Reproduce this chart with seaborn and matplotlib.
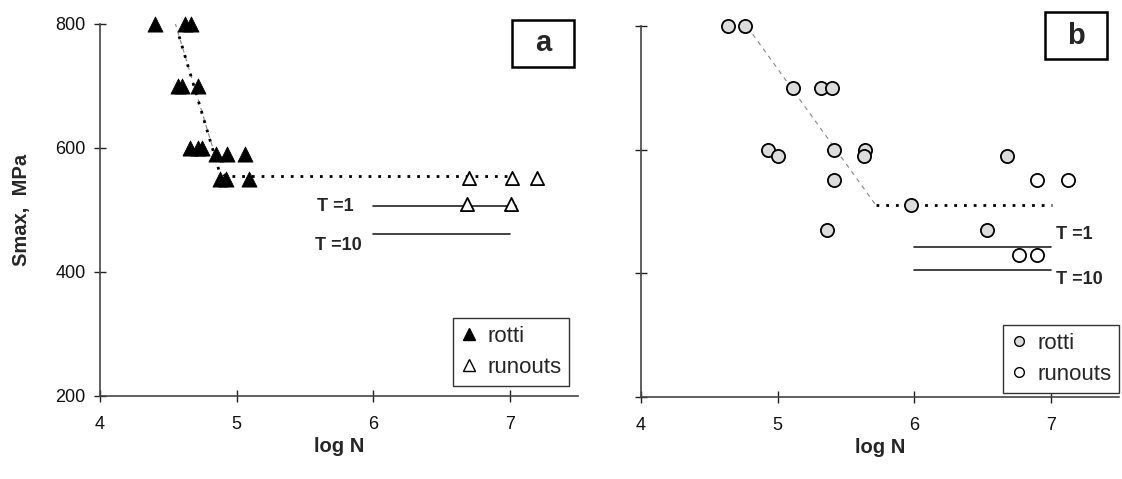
import matplotlib
matplotlib.use("Agg")
import matplotlib.pyplot as plt
from matplotlib.lines import Line2D
from matplotlib.patches import Rectangle
import seaborn as sns
import pandas as pd

sns.set_style("ticks")
plt.rcParams['font.family'] = ['Liberation Sans', 'DejaVu Sans']

# ---------------- data ----------------
# panel a
a_rotti_x = [4.40, 4.62, 4.67, 4.57, 4.60, 4.72, 4.66, 4.72, 4.75, 4.85, 4.93, 5.06, 4.88, 4.92, 5.09]
a_rotti_y = [800, 800, 800, 700, 700, 700, 600, 600, 600, 590, 590, 590, 550, 550, 550]
a_run_x = [6.70, 7.02, 7.20, 6.69, 7.01]
a_run_y = [552, 552, 552, 510, 510]
a_dot_x = [4.58, 4.87, 4.92, 7.00]
a_dot_y = [780, 565, 554, 554]
a_grey_x = [4.55, 4.84]
a_grey_y = [802, 590]
a_T1_x, a_T1_y = [6.0, 7.05], [507, 507]
a_T10_x, a_T10_y = [6.0, 7.0], [461, 461]

# panel b
b_rotti_x = [4.64, 4.76, 5.11, 5.32, 5.40, 4.93, 5.00, 5.41, 5.64, 5.63, 5.41, 5.98, 5.36, 6.68, 6.53]
b_rotti_y = [800, 800, 700, 700, 700, 600, 590, 600, 600, 590, 550, 510, 470, 590, 470]
b_run_x = [6.90, 7.13, 6.77, 6.90]
b_run_y = [550, 550, 430, 430]
b_dot_x = [5.72, 7.01]
b_dot_y = [510, 510]
b_grey_x = [4.78, 5.72]
b_grey_y = [798, 510]
b_T1_x, b_T1_y = [6.0, 7.0], [443, 443]
b_T10_x, b_T10_y = [6.0, 7.0], [405, 405]

x_ticks = [4, 5, 6, 7]
y_ticks = [200, 400, 600, 800]

# ---------------- figure ----------------
fig = plt.figure(figsize=(11.22, 4.79), dpi=100)
axA = fig.add_axes([0.0891, 0.1733, 0.426, 0.7766])
axB = fig.add_axes([0.5713, 0.1712, 0.426, 0.775])

# ---- panel a ----
axA.plot(a_grey_x, a_grey_y, color='#888888', lw=0.8, ls=(0, (4, 4)), zorder=2)
axA.plot(a_dot_x, a_dot_y, color='black', lw=2.0, ls=(0, (1, 2.5)), zorder=2)
axA.plot(a_T1_x, a_T1_y, color='#222222', lw=1.2, zorder=2)
axA.plot(a_T10_x, a_T10_y, color='#222222', lw=1.2, zorder=2)
dfa_r = pd.DataFrame({'x': a_rotti_x, 'y': a_rotti_y})
dfa_u = pd.DataFrame({'x': a_run_x, 'y': a_run_y})
sns.scatterplot(data=dfa_r, x='x', y='y', ax=axA, marker='^', s=120,
                color='black', edgecolor='black', linewidth=0.5, zorder=3, clip_on=False)
sns.scatterplot(data=dfa_u, x='x', y='y', ax=axA, marker='^', s=90,
                color='white', edgecolor='black', linewidth=1.3, zorder=3, clip_on=False)
axA.text(5.86, 505, 'T =1', fontsize=13, fontweight='bold', ha='right', va='center')
axA.text(5.92, 442, 'T =10', fontsize=13, fontweight='bold', ha='right', va='center')

# ---- panel b ----
axB.plot(b_grey_x, b_grey_y, color='#888888', lw=0.8, ls=(0, (4, 4)), zorder=2)
axB.plot(b_dot_x, b_dot_y, color='black', lw=2.0, ls=(0, (1, 2.5)), zorder=2)
axB.plot(b_T1_x, b_T1_y, color='#222222', lw=1.2, zorder=2)
axB.plot(b_T10_x, b_T10_y, color='#222222', lw=1.2, zorder=2)
dfb_r = pd.DataFrame({'x': b_rotti_x, 'y': b_rotti_y})
dfb_u = pd.DataFrame({'x': b_run_x, 'y': b_run_y})
sns.scatterplot(data=dfb_r, x='x', y='y', ax=axB, marker='o', s=90,
                color='#dcdcdc', edgecolor='black', linewidth=1.3, zorder=3, clip_on=False)
sns.scatterplot(data=dfb_u, x='x', y='y', ax=axB, marker='o', s=90,
                color='white', edgecolor='black', linewidth=1.3, zorder=3, clip_on=False)
axB.text(7.04, 462, 'T =1', fontsize=13, fontweight='bold', ha='left', va='center')
axB.text(7.04, 390, 'T =10', fontsize=13, fontweight='bold', ha='left', va='center')

spine_col = '#444444'
for ax in (axA, axB):
    ax.set_xlim(4, 7.5)
    ax.set_ylim(200, 800)
    ax.set_xticks(x_ticks)
    ax.set_yticks(y_ticks)
    for s in ('top', 'right'):
        ax.spines[s].set_visible(False)
    for s in ('left', 'bottom'):
        ax.spines[s].set_color(spine_col)
        ax.spines[s].set_linewidth(1.2)
    ax.tick_params(direction='inout', length=9, width=1.0, color='#222222',
                   labelsize=13, labelcolor='#111111', pad=6)
    ax.tick_params(axis='x', pad=10)
    ax.set_xlabel('log N', fontsize=14.5, fontweight='bold')
    ax.xaxis.set_label_coords(0.5, -0.11)

axA.set_ylabel('Smax,  MPa', fontsize=14.5, fontweight='bold')
axA.yaxis.set_label_coords(-0.145, 0.5)
axB.set_ylabel('')
axB.set_yticklabels([])

# ---- legends ----
legA = [Line2D([], [], ls='', marker='^', ms=8, color='black', label='rotti'),
        Line2D([], [], ls='', marker='^', ms=8, mfc='white', mec='black', mew=1.0, label='runouts')]
lA = axA.legend(handles=legA, loc='lower left', bbox_to_anchor=(0.738, 0.027),
                fontsize=16, frameon=True, fancybox=False, framealpha=1,
                edgecolor='#333333', handlelength=0.8, handletextpad=0.4,
                borderpad=0.35, labelspacing=0.45, borderaxespad=0)
lA.get_frame().set_linewidth(1.0)

legB = [Line2D([], [], ls='', marker='o', ms=7, mfc='#dcdcdc', mec='black', mew=1.0, label='rotti'),
        Line2D([], [], ls='', marker='o', ms=7, mfc='white', mec='black', mew=1.0, label='runouts')]
lB = axB.legend(handles=legB, loc='lower left', bbox_to_anchor=(0.757, 0.011),
                fontsize=16, frameon=True, fancybox=False, framealpha=1,
                edgecolor='#333333', handlelength=0.8, handletextpad=0.4,
                borderpad=0.35, labelspacing=0.45, borderaxespad=0)
lB.get_frame().set_linewidth(1.0)

# ---- panel letters ----
for ax, (x0, x1, y0, y1), letter in ((axA, (0.862, 0.992, 0.885, 1.011), 'a'),
                                      (axB, (0.845, 0.975, 0.910, 1.036), 'b')):
    ax.add_patch(Rectangle((x0, y0), x1 - x0, y1 - y0, transform=ax.transAxes,
                           fill=False, edgecolor='black', lw=1.8, clip_on=False, zorder=5))
    ax.text((x0 + x1) / 2, (y0 + y1) / 2, letter, transform=ax.transAxes,
            fontsize=21, fontweight='bold', ha='center', va='center', zorder=6)

fig.savefig('out.png', dpi=100)
